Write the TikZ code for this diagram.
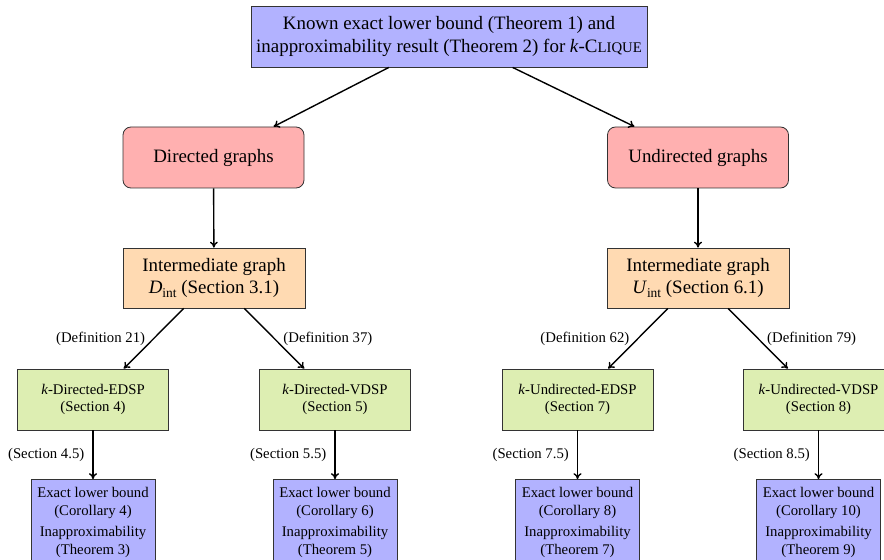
\documentclass[tikz,border=0pt]{standalone}
\usepackage{fontspec}
\setmainfont{Liberation Serif}
\usetikzlibrary{arrows.meta}
\definecolor{topblue}{RGB}{178,178,255}
\definecolor{boxred}{RGB}{255,176,176}
\definecolor{boxorange}{RGB}{255,218,178}
\definecolor{boxgreen}{RGB}{221,238,178}
\newcommand{\bigfont}{\fontsize{19}{24}\selectfont}
\newcommand{\smallfont}{\fontsize{14.8}{17.5}\selectfont}
\newcommand{\myclique}{C{\fontsize{14.8}{17}\selectfont LIQUE}}
\tikzset{
  base/.style={draw=black!80, line width=0.8bp, inner sep=0pt, align=center},
  topbox/.style={base, fill=topblue, minimum width=396bp, minimum height=61bp, font=\bigfont},
  graphbox/.style={base, fill=boxred, rounded corners=8bp, minimum width=181bp, minimum height=61bp, font=\bigfont},
  intbox/.style={base, fill=boxorange, minimum width=182bp, minimum height=60bp, font=\fontsize{19}{22.5}\selectfont},
  probbox/.style={base, fill=boxgreen, minimum width=151bp, minimum height=61bp, font=\smallfont},
  resbox/.style={base, fill=topblue, minimum width=124bp, minimum height=86bp, font=\fontsize{14.8}{18}\selectfont},
  conn/.style={-{To[length=6bp,width=8bp]}, line width=1.4bp},
  lbl/.style={font=\smallfont, inner sep=2bp},
}
\begin{document}
\begin{tikzpicture}[x=1bp,y=-1bp]
\useasboundingbox (0,0) rectangle (884,560);
% top
\node[topbox] (top) at (449,36.5) {Known exact lower bound (Theorem 1) and\\inapproximability result (Theorem 2) for \textit{k}-\myclique};
% graph types
\node[graphbox] (dir) at (213.5,157.5) {Directed graphs};
\node[graphbox] (und) at (698,157.5) {Undirected graphs};
% intermediate
\node[intbox] (dint) at (214,278) {Intermediate graph\\\textit{D}\raisebox{-3.5bp}{\fontsize{13.5}{14}\selectfont int} (Section 3.1)};
\node[intbox] (uint) at (698,278) {Intermediate graph\\\textit{U}\raisebox{-3.5bp}{\fontsize{13.5}{14}\selectfont int} (Section 6.1)};
% problems
\node[probbox] (dedsp) at (93,399.5) {\textit{k}-Directed-EDSP\\(Section 4)};
\node[probbox] (dvdsp) at (335,399.5) {\textit{k}-Directed-VDSP\\(Section 5)};
\node[probbox] (uedsp) at (577.5,399.5) {\textit{k}-Undirected-EDSP\\(Section 7)};
\node[probbox] (uvdsp) at (818.5,399.5) {\textit{k}-Undirected-VDSP\\(Section 8)};
% results
\node[resbox] (r1) at (93,522.5) {Exact lower bound\\(Corollary 4)\\[3bp]Inapproximability\\(Theorem 3)};
\node[resbox] (r2) at (335,522.5) {Exact lower bound\\(Corollary 6)\\[3bp]Inapproximability\\(Theorem 5)};
\node[resbox] (r3) at (577.5,522.5) {Exact lower bound\\(Corollary 8)\\[3bp]Inapproximability\\(Theorem 7)};
\node[resbox] (r4) at (818.5,522.5) {Exact lower bound\\(Corollary 10)\\[3bp]Inapproximability\\(Theorem 9)};
% connectors
\draw[conn] (top) -- (dir);
\draw[conn] (top) -- (und);
\draw[conn] (dir) -- (dint);
\draw[conn] (und) -- (uint);
\draw[conn] (dint) -- node[lbl, midway, left=6bp] {(Definition 21)} (dedsp);
\draw[conn] (dint) -- node[lbl, midway, right=6.5bp] {(Definition 37)} (dvdsp);
\draw[conn] (uint) -- node[lbl, midway, left=6bp] {(Definition 62)} (uedsp);
\draw[conn] (uint) -- node[lbl, midway, right=6.5bp] {(Definition 79)} (uvdsp);
\draw[conn] (dedsp) -- node[lbl, midway, left=6bp] {(Section 4.5)} (r1);
\draw[conn] (dvdsp) -- node[lbl, midway, left=6bp] {(Section 5.5)} (r2);
\draw[conn] (uedsp) -- node[lbl, midway, left=6bp] {(Section 7.5)} (r3);
\draw[conn] (uvdsp) -- node[lbl, midway, left=6bp] {(Section 8.5)} (r4);
\end{tikzpicture}
\end{document}
